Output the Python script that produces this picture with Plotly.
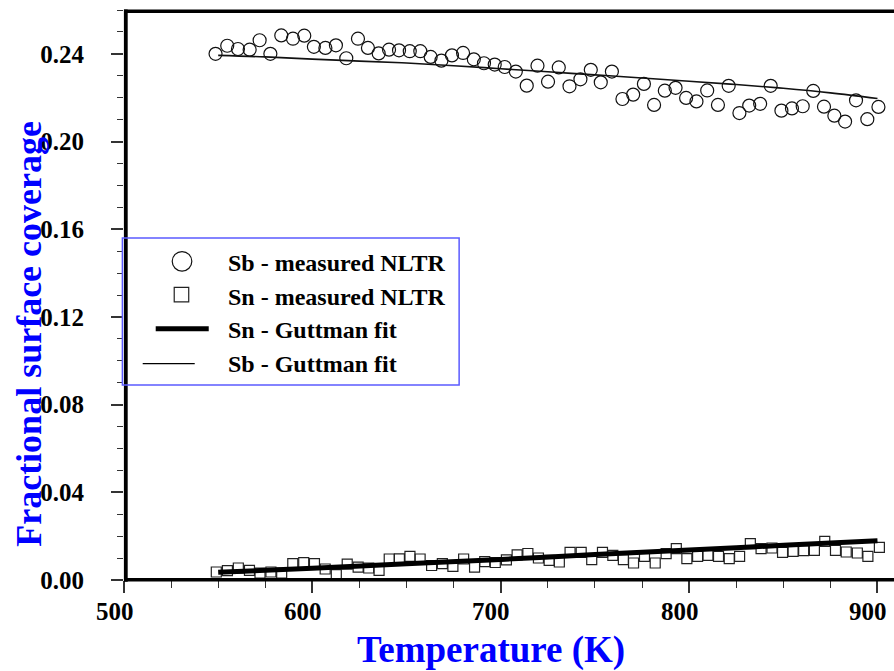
import plotly.graph_objects as go

# ---------------- data ----------------
sb_T = [548.6, 554.8, 560.5, 566.7, 572.0, 577.7, 583.5, 589.7, 595.7, 600.8,
        606.9, 612.5, 618.0, 624.2, 629.5, 635.2, 640.7, 646.0, 651.7, 657.3,
        662.8, 668.5, 674.1, 680.0, 685.7, 691.1, 696.8, 702.1, 708.0, 713.8,
        719.5, 725.1, 730.8, 736.5, 742.3, 747.8, 753.1, 759.0, 764.6, 770.3,
        776.0, 781.4, 787.1, 792.8, 798.4, 803.9, 809.6, 815.3, 821.0, 826.7,
        831.9, 837.7, 843.3, 849.0, 854.6, 860.3, 865.9, 871.6, 877.1, 882.8,
        888.6, 894.6, 900.5]
sb_cov = [0.2400, 0.2437, 0.2422, 0.2419, 0.2462, 0.2400, 0.2484, 0.2469, 0.2483, 0.2432,
          0.2427, 0.2439, 0.2380, 0.2469, 0.2427, 0.2402, 0.2419, 0.2416, 0.2412, 0.2412,
          0.2386, 0.2369, 0.2393, 0.2404, 0.2375, 0.2357, 0.2351, 0.2340, 0.2319, 0.2255,
          0.2346, 0.2273, 0.2338, 0.2252, 0.2284, 0.2327, 0.2270, 0.2319, 0.2194, 0.2214,
          0.2263, 0.2167, 0.2232, 0.2245, 0.2199, 0.2183, 0.2233, 0.2167, 0.2254, 0.2130,
          0.2164, 0.2172, 0.2254, 0.2141, 0.2151, 0.2161, 0.2231, 0.2159, 0.2118, 0.2091,
          0.2188, 0.2102, 0.2158]

sn_T = [549.0, 554.9, 560.7, 566.6, 572.2, 578.0, 583.7, 589.6, 595.4, 601.1,
        606.8, 612.7, 618.5, 624.3, 629.9, 635.4, 640.8, 646.2, 651.8, 657.2,
        663.3, 669.0, 674.6, 680.3, 686.1, 691.5, 697.1, 703.0, 708.7, 714.4,
        720.0, 725.7, 731.1, 736.8, 742.7, 748.3, 754.0, 759.5, 765.1, 770.5,
        776.3, 782.0, 787.8, 793.2, 798.8, 804.5, 810.0, 815.6, 821.3, 826.8,
        832.5, 838.2, 844.0, 849.6, 855.2, 860.8, 866.5, 872.0, 877.7, 883.4,
        889.3, 894.9, 901.0]
sn_cov = [0.00365, 0.00424, 0.00547, 0.00438, 0.00319, 0.00365, 0.00319, 0.00744, 0.00789, 0.00744,
          0.00502, 0.00242, 0.00721, 0.00584, 0.00547, 0.00438, 0.00958, 0.00963, 0.01077, 0.00958,
          0.00661, 0.00744, 0.00620, 0.00958, 0.00584, 0.00835, 0.00798, 0.00917, 0.01145, 0.01209,
          0.01004, 0.00894, 0.00821, 0.01259, 0.01259, 0.00926, 0.01259, 0.01122, 0.00926, 0.00776,
          0.01077, 0.00776, 0.01200, 0.01428, 0.00972, 0.01077, 0.01122, 0.01077, 0.00972, 0.01077,
          0.01656, 0.01428, 0.01460, 0.01259, 0.01305, 0.01337, 0.01350, 0.01761, 0.01350, 0.01277,
          0.01232, 0.01077, 0.01487]

sb_fit_T = [550, 575, 600, 625, 650, 675, 700, 725, 750, 775, 800, 825, 850, 875, 900]
sb_fit = [0.2393, 0.2386, 0.2376, 0.2367, 0.2358, 0.2346, 0.2332, 0.2318, 0.2304,
          0.2290, 0.2275, 0.2260, 0.2243, 0.2222, 0.2196]

sn_fit_T = [550, 600, 650, 700, 750, 800, 850, 900]
sn_fit = [0.0035, 0.0054, 0.0074, 0.0094, 0.0116, 0.0137, 0.0158, 0.0179]

legend_labels = ["Sb - measured NLTR", "Sn - measured NLTR", "Sn - Guttman fit", "Sb - Guttman fit"]
x_ticks = [500, 600, 700, 800, 900]
x_ticktext = ["500", "600", "700", "800", "900"]
x_title = "Temperature (K)"
y_title = "Fractional surface coverage"

# ---------------- geometry ----------------
W, H = 894, 671
PL, PR, PT, PB = 124.3, 894.0, 10.4, 580.3   # plot area in pixels


def px(x):
    return (x - PL) / (PR - PL)


def py(y):
    return (PB - y) / (PB - PT)


SERIF = "Liberation Serif, Times New Roman, serif"
tickfont = dict(family=SERIF, size=25, color="black", weight="bold")

fig = go.Figure()
fig.add_trace(go.Scatter(x=sb_T, y=sb_cov, mode="markers", showlegend=False,
                         marker=dict(symbol="circle-open", size=13, color="#111",
                                     line=dict(width=1.2))))
fig.add_trace(go.Scatter(x=sb_fit_T, y=sb_fit, mode="lines", showlegend=False,
                         line=dict(color="#111", width=1.6, shape="spline")))
fig.add_trace(go.Scatter(x=sn_T, y=sn_cov, mode="markers", showlegend=False,
                         marker=dict(symbol="square-open", size=10, color="#222",
                                     line=dict(width=1.2))))
fig.add_trace(go.Scatter(x=sn_fit_T, y=sn_fit, mode="lines", showlegend=False,
                         line=dict(color="#000", width=5, shape="spline")))

shapes = []
# axis frame lines
shapes.append(dict(type="line", xref="paper", yref="paper", x0=px(126.1), x1=px(126.1),
                   y0=py(580.3 + 1.8), y1=py(9.9), line=dict(color="black", width=3.8)))
shapes.append(dict(type="line", xref="paper", yref="paper", x0=px(124.3), x1=1.0,
                   y0=py(580.0), y1=py(580.0), line=dict(color="black", width=3.6)))
shapes.append(dict(type="line", xref="paper", yref="paper", x0=px(124.3), x1=1.0,
                   y0=py(11.7), y1=py(11.7), line=dict(color="black", width=3.6)))
# legend box
shapes.append(dict(type="rect", xref="paper", yref="paper", x0=px(122.7), x1=px(459.3),
                   y0=py(385.3), y1=py(238.3), line=dict(color="#5b5bff", width=1.5)))
# legend symbols
shapes.append(dict(type="circle", xref="paper", yref="paper", x0=px(172.5), x1=px(192.1),
                   y0=py(271.5), y1=py(251.9), line=dict(color="#111", width=1.2)))
shapes.append(dict(type="rect", xref="paper", yref="paper", x0=px(174.5), x1=px(189.0),
                   y0=py(302.2), y1=py(287.7), line=dict(color="#222", width=1.2)))
shapes.append(dict(type="line", xref="paper", yref="paper", x0=px(156), x1=px(209),
                   y0=py(329), y1=py(329), line=dict(color="black", width=5)))
shapes.append(dict(type="line", xref="paper", yref="paper", x0=px(143), x1=px(195),
                   y0=py(364), y1=py(364), line=dict(color="black", width=1.3)))

annotations = []
for lab, yc in zip(legend_labels, [263, 297, 330, 364]):
    annotations.append(dict(text=lab, xref="paper", yref="paper", x=px(226), y=py(yc),
                            xanchor="left", yanchor="middle", showarrow=False,
                            font=dict(family=SERIF, size=24, color="black", weight="bold")))
# x tick labels (sit slightly left of their ticks, as in the original)
for tv, tt in zip(x_ticks, x_ticktext):
    annotations.append(dict(text=tt, xref="x", yref="paper", x=tv, y=py(612),
                            xanchor="center", yanchor="middle", xshift=-9.5, showarrow=False,
                            font=tickfont))
annotations.append(dict(text=x_title, xref="paper", yref="paper", x=px(491.5), y=py(650),
                        xanchor="center", yanchor="middle", showarrow=False,
                        font=dict(family=SERIF, size=37, color="#0000ff", weight="bold")))
annotations.append(dict(text=y_title, xref="paper", yref="paper", x=px(28.5), y=py(334),
                        xanchor="center", yanchor="middle", showarrow=False, textangle=-90,
                        font=dict(family=SERIF, size=36, color="#0000ff", weight="bold")))

fig.update_layout(
    width=W, height=H,
    margin=dict(l=PL, r=W - PR, t=PT, b=H - PB, pad=0, autoexpand=False),
    paper_bgcolor="white", plot_bgcolor="white",
    shapes=shapes, annotations=annotations,
    showlegend=False,
    xaxis=dict(range=[500, 500 + (PR - PL) / 1.883], tickvals=x_ticks, ticks="outside",
               ticklen=12, tickwidth=1.5, tickcolor="#333", showgrid=False, zeroline=False,
               showline=False, showticklabels=False,
               minor=dict(dtick=25, tick0=500, ticks="outside", ticklen=7, tickwidth=1.3,
                          tickcolor="#333", showgrid=False)),
    yaxis=dict(range=[0, 0.26], dtick=0.04, tick0=0, tickformat=".2f", ticks="outside",
               ticklen=12, tickwidth=1.5, tickcolor="#333", showgrid=False, zeroline=False,
               showline=False, tickfont=tickfont, ticklabelstandoff=22,
               minor=dict(dtick=0.01, tick0=0, ticks="outside", ticklen=6, tickwidth=1.3,
                          tickcolor="#333", showgrid=False)),
)

fig.write_html("out.html")
